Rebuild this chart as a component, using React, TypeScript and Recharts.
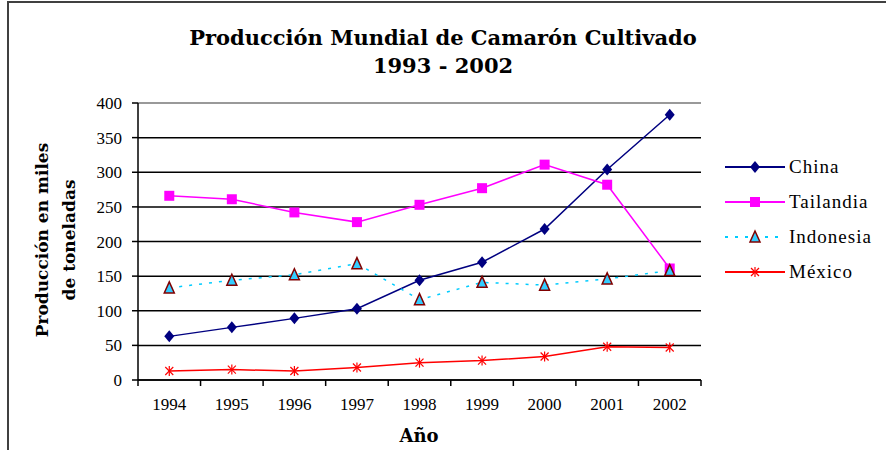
import React from 'react';
import { LineChart, Line, XAxis, YAxis, CartesianGrid, ReferenceLine, Legend } from 'recharts';

const years = ['1994', '1995', '1996', '1997', '1998', '1999', '2000', '2001', '2002'];
const china = [63, 76, 89, 103, 144, 170, 218, 304, 383];
const tailandia = [266, 261, 242, 228, 253, 277, 311, 282, 161];
const indonesia = [133, 144, 152, 168, 116, 141, 137, 146, 158];
const mexico = [13, 15, 13, 18, 25, 28, 34, 48, 47];
const yTicks = [0, 50, 100, 150, 200, 250, 300, 350, 400];

const data = years.map((year, i) => ({
  year,
  China: china[i],
  Tailandia: tailandia[i],
  Indonesia: indonesia[i],
  'México': mexico[i],
}));

const W = 886;
const H = 450;
const PLOT_LEFT = 138;
const PLOT_RIGHT = 701;
const HALF_BAND = (PLOT_RIGHT - PLOT_LEFT) / years.length / 2;

const serif = '"Liberation Serif", "Times New Roman", serif';
const boldSerif = '"DejaVu Serif", serif';

function Diamond({ cx, cy }: any) {
  if (cx == null || cy == null) return null;
  return <polygon points={`${cx},${cy - 6} ${cx + 5},${cy} ${cx},${cy + 6} ${cx - 5},${cy}`} fill="#000080" />;
}

function Square({ cx, cy }: any) {
  if (cx == null || cy == null) return null;
  return <rect x={cx - 5} y={cy - 5} width={10} height={10} fill="#FF00FF" />;
}

function Triangle({ cx, cy }: any) {
  if (cx == null || cy == null) return null;
  return (
    <polygon
      points={`${cx},${cy - 6} ${cx + 5},${cy + 5} ${cx - 5},${cy + 5}`}
      fill="#33CCFF"
      stroke="#800000"
      strokeWidth={1.5}
    />
  );
}

function Star({ cx, cy }: any) {
  if (cx == null || cy == null) return null;
  return (
    <g stroke="#FF0000" strokeWidth={1.2}>
      <line x1={cx - 4} y1={cy - 4} x2={cx + 4} y2={cy + 4} />
      <line x1={cx - 4} y1={cy + 4} x2={cx + 4} y2={cy - 4} />
      <line x1={cx} y1={cy - 5} x2={cx} y2={cy + 5} />
    </g>
  );
}

const series = [
  { key: 'China', color: '#000080', dash: undefined, Dot: Diamond },
  { key: 'Tailandia', color: '#FF00FF', dash: undefined, Dot: Square },
  { key: 'Indonesia', color: '#00CCFF', dash: '3 7', Dot: Triangle },
  { key: 'México', color: '#FF0000', dash: undefined, Dot: Star },
];

function XTick({ x, y, payload, index }: any) {
  const axisY = y - 6;
  return (
    <g>
      <line x1={x - HALF_BAND} y1={axisY} x2={x - HALF_BAND} y2={axisY + 6} stroke="#000" strokeWidth={1.5} />
      {index === years.length - 1 && (
        <line x1={x + HALF_BAND} y1={axisY} x2={x + HALF_BAND} y2={axisY + 6} stroke="#000" strokeWidth={1.5} />
      )}
      <text x={x} y={y} dy={24} textAnchor="middle" fontFamily={serif} fontSize={17} fill="#000">
        {payload.value}
      </text>
    </g>
  );
}

function LegendContent() {
  return (
    <div>
      {series.map((s) => (
        <div key={s.key} style={{ display: 'flex', alignItems: 'center', height: 35 }}>
          <svg width={64} height={16}>
            <line x1={0} y1={8} x2={60} y2={8} stroke={s.color} strokeWidth={2} strokeDasharray={s.dash} />
            <s.Dot cx={30} cy={8} />
          </svg>
          <span style={{ fontFamily: serif, fontSize: 19, color: '#000', letterSpacing: 1 }}>{s.key}</span>
        </div>
      ))}
    </div>
  );
}

export default function App() {
  return (
    <div style={{ position: 'absolute', left: 0, top: 0, width: W, height: H, background: '#fff', overflow: 'hidden' }}>
      {/* outer frame: only top and left edges are inside the picture */}
      <div
        style={{
          position: 'absolute',
          left: 7,
          top: 1,
          width: W - 9,
          height: H - 3,
          borderTop: '2px solid #404040',
          borderLeft: '2px solid #404040',
        }}
      />
      <div
        style={{
          position: 'absolute',
          left: 0,
          width: W,
          top: 24,
          textAlign: 'center',
          fontFamily: boldSerif,
          fontWeight: 'bold',
          fontSize: 21,
          lineHeight: '28px',
        }}
      >
        Producción Mundial de Camarón Cultivado
        <br />
        1993 - 2002
      </div>
      <div
        style={{
          position: 'absolute',
          left: 57 - 150,
          top: 240 - 28,
          width: 300,
          height: 56,
          transform: 'rotate(-90deg)',
          textAlign: 'center',
          fontFamily: boldSerif,
          fontWeight: 'bold',
          fontSize: 17,
          lineHeight: '27px',
        }}
      >
        Producción en miles
        <br />
        de toneladas
      </div>
      <div
        style={{
          position: 'absolute',
          left: 419 - 50,
          width: 100,
          top: 425,
          textAlign: 'center',
          fontFamily: boldSerif,
          fontWeight: 'bold',
          fontSize: 18,
        }}
      >
        Año
      </div>
      <div style={{ position: 'absolute', left: 0, top: 0 }}>
        <LineChart width={W} height={H} data={data} margin={{ top: 103, right: W - PLOT_RIGHT, left: 0, bottom: 0 }}>
          <CartesianGrid horizontal vertical={false} stroke="#000" strokeWidth={1.5} />
          <XAxis
            dataKey="year"
            height={70}
            padding={{ left: HALF_BAND, right: HALF_BAND }}
            axisLine={{ stroke: '#000', strokeWidth: 1.5 }}
            tickLine={false}
            tickSize={6}
            tickMargin={0}
            interval={0}
            tick={<XTick />}
          />
          <YAxis
            width={PLOT_LEFT}
            domain={[0, 400]}
            ticks={yTicks}
            interval={0}
            axisLine={{ stroke: '#000', strokeWidth: 1.5 }}
            tickLine={{ stroke: '#000', strokeWidth: 1.5 }}
            tickSize={6}
            tickMargin={10}
            tick={{ fontFamily: serif, fontSize: 17, fill: '#000' }}
          />
          <YAxis
            yAxisId="right"
            orientation="right"
            width={0}
            domain={[0, 400]}
            tick={false}
            tickLine={false}
            axisLine={{ stroke: '#999', strokeWidth: 2 }}
          />
          <ReferenceLine y={400} stroke="#999" strokeWidth={2} />
          {series.map((s) => (
            <Line
              key={s.key}
              dataKey={s.key}
              stroke={s.color}
              strokeWidth={1.5}
              strokeDasharray={s.dash}
              dot={<s.Dot />}
              activeDot={false}
              isAnimationActive={false}
            />
          ))}
          <Legend
            layout="vertical"
            align="center"
            verticalAlign="middle"
            content={<LegendContent />}
            wrapperStyle={{ position: 'absolute', left: 725, top: 149, width: 160, height: 140 }}
          />
        </LineChart>
      </div>
    </div>
  );
}
